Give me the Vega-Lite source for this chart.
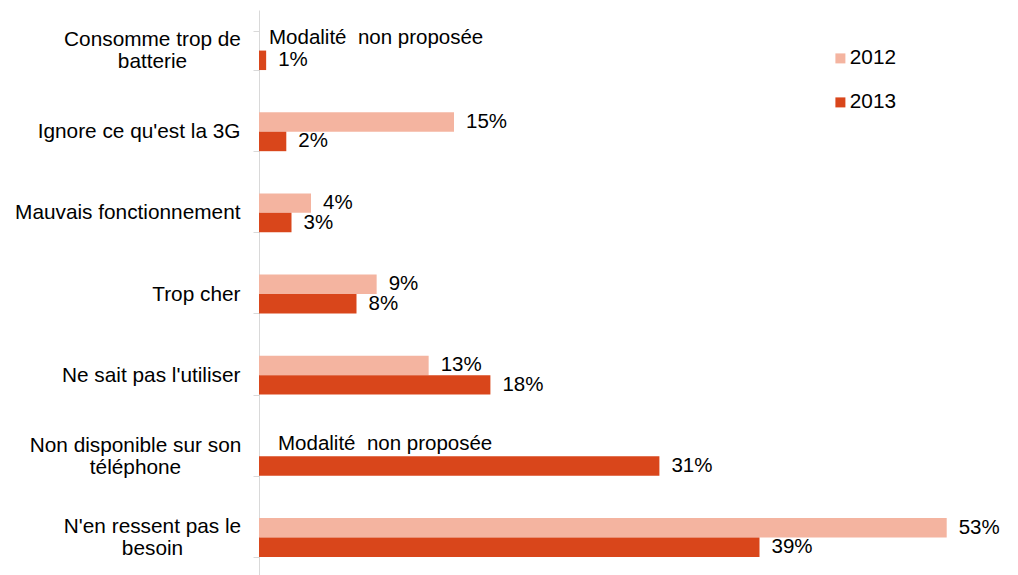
{
  "$schema": "https://vega.github.io/schema/vega-lite/v6.json",
  "autosize": {"type": "none"},
  "padding": {"left": 259, "top": 10, "right": 44, "bottom": 0},
  "width": 715,
  "height": 568,
  "background": "white",
  "config": {"view": {"stroke": null}, "font": "Liberation Sans"},
  "datasets": {
    "bars": [
      {"cat": "Consomme trop de batterie", "year": "2013", "value": 0.55, "label": "1%"},
      {"cat": "Ignore ce qu'est la 3G", "year": "2012", "value": 15, "label": "15%"},
      {"cat": "Ignore ce qu'est la 3G", "year": "2013", "value": 2.1, "label": "2%"},
      {"cat": "Mauvais fonctionnement", "year": "2012", "value": 4, "label": "4%"},
      {"cat": "Mauvais fonctionnement", "year": "2013", "value": 2.5, "label": "3%"},
      {"cat": "Trop cher", "year": "2012", "value": 9.05, "label": "9%"},
      {"cat": "Trop cher", "year": "2013", "value": 7.5, "label": "8%"},
      {"cat": "Ne sait pas l'utiliser", "year": "2012", "value": 13.05, "label": "13%"},
      {"cat": "Ne sait pas l'utiliser", "year": "2013", "value": 17.8, "label": "18%"},
      {"cat": "Non disponible sur son téléphone", "year": "2013", "value": 30.8, "label": "31%"},
      {"cat": "N'en ressent pas le besoin", "year": "2012", "value": 52.9, "label": "53%"},
      {"cat": "N'en ressent pas le besoin", "year": "2013", "value": 38.5, "label": "39%"}
    ],
    "notes": [
      {"cat": "Consomme trop de batterie", "year": "2012", "text": "Modalité\u00a0 non proposée"},
      {"cat": "Non disponible sur son téléphone", "year": "2012", "text": "Modalité\u00a0 non proposée"}
    ]
  },
  "layer": [
    {
      "data": {"name": "bars"},
      "mark": {"type": "bar"},
      "encoding": {
        "y": {
          "field": "cat", "type": "nominal", "sort": null,
          "scale": {
            "domain": ["Consomme trop de batterie", "Ignore ce qu'est la 3G", "Mauvais fonctionnement", "Trop cher", "Ne sait pas l'utiliser", "Non disponible sur son téléphone", "N'en ressent pas le besoin"],
            "paddingInner": 0.52, "paddingOuter": 0.26
          },
          "axis": {
            "title": null,
            "domainColor": "#D9D9D9",
            "tickColor": "#D9D9D9",
            "tickSize": 6,
            "tickBand": "extent",
            "labelFont": "Liberation Sans",
            "labelFontSize": 20.8,
            "labelColor": "#000000",
            "labelLineHeight": 22,
            "labelLimit": 400,
            "labelExpr": "datum.value == 'Consomme trop de batterie' ? ['Consomme trop de', 'batterie'] : datum.value == 'Non disponible sur son téléphone' ? ['Non disponible sur son', 'téléphone'] : datum.value == \"N'en ressent pas le besoin\" ? [\"N'en ressent pas le\", 'besoin'] : datum.label",
            "labelAlign": {"condition": {"test": "indexof(['Consomme trop de batterie', 'Non disponible sur son téléphone', \"N'en ressent pas le besoin\"], datum.value) >= 0", "value": "center"}, "value": "right"},
            "labelPadding": {"condition": [
              {"test": "datum.value == 'Consomme trop de batterie'", "value": 101},
              {"test": "datum.value == 'Non disponible sur son téléphone'", "value": 118},
              {"test": "datum.value == \"N'en ressent pas le besoin\"", "value": 101}
            ], "value": 13},
            "labelOffset": {"condition": {"test": "indexof(['Consomme trop de batterie', 'Non disponible sur son téléphone', \"N'en ressent pas le besoin\"], datum.value) >= 0", "value": -11}, "value": 0}
          }
        },
        "yOffset": {"field": "year", "type": "nominal", "scale": {"domain": ["2012", "2013"], "paddingInner": 0, "paddingOuter": 0}},
        "x": {"field": "value", "type": "quantitative", "scale": {"domain": [0, 55], "nice": false}, "axis": null},
        "color": {
          "field": "year", "type": "nominal",
          "scale": {"domain": ["2012", "2013"], "range": ["#F4B4A0", "#D9461B"]},
          "legend": {
            "orient": "none", "legendX": 571, "legendY": 38, "title": null,
            "symbolType": "square", "symbolSize": 100, "symbolStrokeWidth": 0,
            "labelFont": "Liberation Sans", "labelFontSize": 20.8, "labelColor": "#000000",
            "rowPadding": 22, "labelOffset": -1
          }
        }
      }
    },
    {
      "data": {"name": "bars"},
      "mark": {"type": "text", "align": "left", "baseline": "middle", "dx": 12, "fontSize": 20.5, "font": "Liberation Sans", "color": "#000000"},
      "encoding": {
        "y": {"field": "cat", "type": "nominal", "sort": null},
        "yOffset": {"field": "year", "type": "nominal"},
        "x": {"field": "value", "type": "quantitative"},
        "text": {"field": "label"}
      }
    },
    {
      "data": {"name": "notes"},
      "mark": {"type": "text", "align": "left", "baseline": "middle", "dy": -3, "dx": {"expr": "datum.cat == 'Consomme trop de batterie' ? 10 : 19"}, "fontSize": 20.5, "font": "Liberation Sans", "color": "#000000"},
      "encoding": {
        "y": {"field": "cat", "type": "nominal", "sort": null},
        "yOffset": {"field": "year", "type": "nominal"},
        "x": {"datum": 0, "type": "quantitative"},
        "text": {"field": "text"}
      }
    }
  ]
}
